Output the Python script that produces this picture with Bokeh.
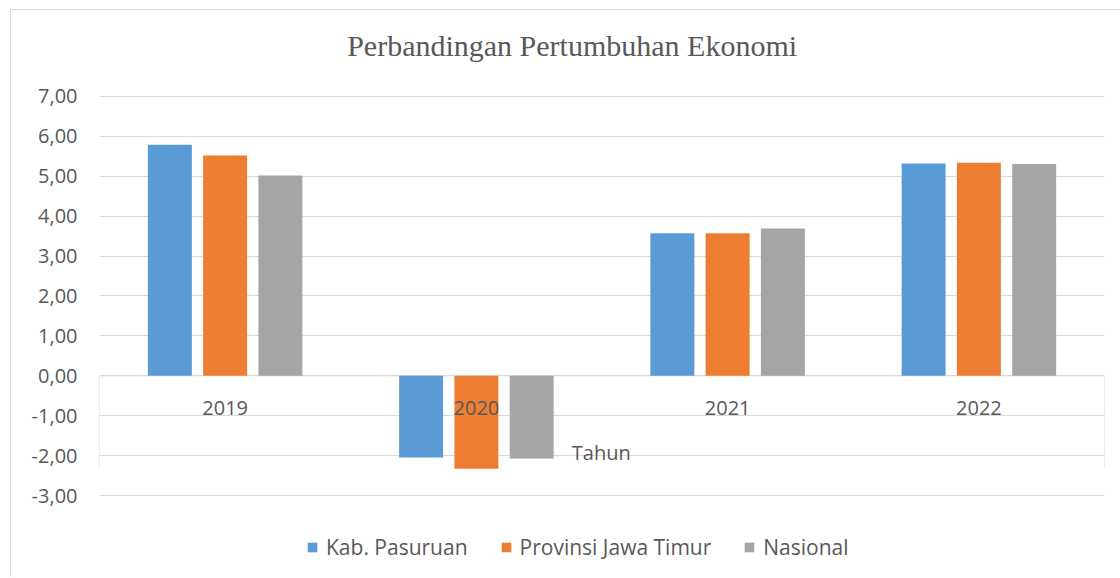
from bokeh.plotting import figure
from bokeh.models import (ColumnDataSource, FactorRange, FixedTicker, Legend,
                          LegendItem, Label, Range1d, Span)
from bokeh.core.properties import value
from bokeh.transform import dodge
from bokeh.embed import file_html
from bokeh.resources import INLINE

years = ["2019", "2020", "2021", "2022"]
kab_pasuruan = [5.79, -2.05, 3.57, 5.32]
jawa_timur = [5.52, -2.33, 3.57, 5.34]
nasional = [5.02, -2.07, 3.69, 5.31]
series_names = ["Kab. Pasuruan", "Provinsi Jawa Timur", "Nasional"]
colors = ["#5B9BD5", "#ED7D31", "#A5A5A5"]
y_ticks = [-3, -2, -1, 0, 1, 2, 3, 4, 5, 6, 7]
y_tick_labels = ["-3,00", "-2,00", "-1,00", "0,00", "1,00", "2,00",
                 "3,00", "4,00", "5,00", "6,00", "7,00"]
title_text = "Perbandingan Pertumbuhan Ekonomi"
x_title = "Tahun"

TXT = "#595959"
GRID = "#D9D9D9"
FONT = "Open Sans"

source = ColumnDataSource(dict(year=years, kab=kab_pasuruan, jatim=jawa_timur, nas=nasional))

# the frame spans the whole chart height so that title and legend sit inside it
p = figure(x_range=FactorRange(*years), y_range=Range1d(-5.055, 9.155),
           frame_width=1005, frame_height=567, output_backend="svg", toolbar_location=None,
           min_border_left=88, min_border_right=16, min_border_top=0,
           min_border_bottom=0,
           styles={"margin-left": "10px", "margin-top": "9px",
                   "border-left": "1px solid #D9D9D9",
                   "border-top": "1px solid #D9D9D9"})
p.outline_line_color = None

p.xgrid.grid_line_color = None
p.ygrid.ticker = FixedTicker(ticks=y_ticks)
p.ygrid.grid_line_color = GRID
p.ygrid.grid_line_width = 1

# category axis line at zero
p.add_layout(Span(location=0, dimension="width", line_color=GRID, line_width=1, level="underlay"))

offsets = [-0.22, 0.0, 0.22]
fields = ["kab", "jatim", "nas"]
renderers = []
for f, off, c in zip(fields, offsets, colors):
    r = p.vbar(x=dodge("year", off, range=p.x_range), top=f, bottom=0, width=0.175,
               source=source, fill_color=c, line_color=None)
    renderers.append(r)

# category-axis edge lines, from zero down to the lowest value
min_val = min(kab_pasuruan + jawa_timur + nasional)
edge_l = ColumnDataSource(dict(year=[years[0]], y0=[0], y1=[min_val]))
edge_r = ColumnDataSource(dict(year=[years[-1]], y0=[0], y1=[min_val]))
p.segment(x0=dodge("year", -0.5, range=p.x_range), x1=dodge("year", -0.5, range=p.x_range),
          y0="y0", y1="y1", source=edge_l, line_color=GRID, line_width=1)
p.segment(x0=dodge("year", 0.5, range=p.x_range), x1=dodge("year", 0.5, range=p.x_range),
          y0="y0", y1="y1", source=edge_r, line_color=GRID, line_width=1)

# category labels just under the zero line
p.text(x="year", y=0, text="year", source=source, text_font=value(FONT),
       text_font_size="20px", text_color=TXT, text_align="center",
       text_baseline="middle", y_offset=32)

# y axis
p.yaxis.ticker = FixedTicker(ticks=y_ticks)
p.yaxis.major_label_overrides = {t: l for t, l in zip(y_ticks, y_tick_labels)}
p.yaxis.axis_line_color = None
p.yaxis.major_tick_line_color = None
p.yaxis.minor_tick_line_color = None
p.yaxis.major_label_text_font = FONT
p.yaxis.major_label_text_font_size = "20px"
p.yaxis.major_label_text_color = TXT
p.yaxis.major_label_standoff = 16

p.xaxis.visible = False

# chart title
p.add_layout(Label(x=1.881, y=8.28, text=title_text, text_font="Liberation Serif",
                   text_font_size="30px", text_color=TXT, text_align="center",
                   text_baseline="middle"))

# axis title
p.add_layout(Label(x=1.88, y=-1.92, text=x_title, text_font=FONT,
                   text_font_size="20px", text_color=TXT, text_baseline="middle"))

legend = Legend(items=[LegendItem(label=n, renderers=[r]) for n, r in zip(series_names, renderers)],
                orientation="horizontal", location=(207, 16),
                label_text_font=FONT, label_text_font_size="21px", label_text_color=TXT,
                glyph_width=12, glyph_height=12, label_standoff=8, spacing=32,
                border_line_color=None, background_fill_alpha=0, padding=0, margin=0)
p.add_layout(legend, "center")

open("out.html", "w").write(file_html(p, INLINE))
